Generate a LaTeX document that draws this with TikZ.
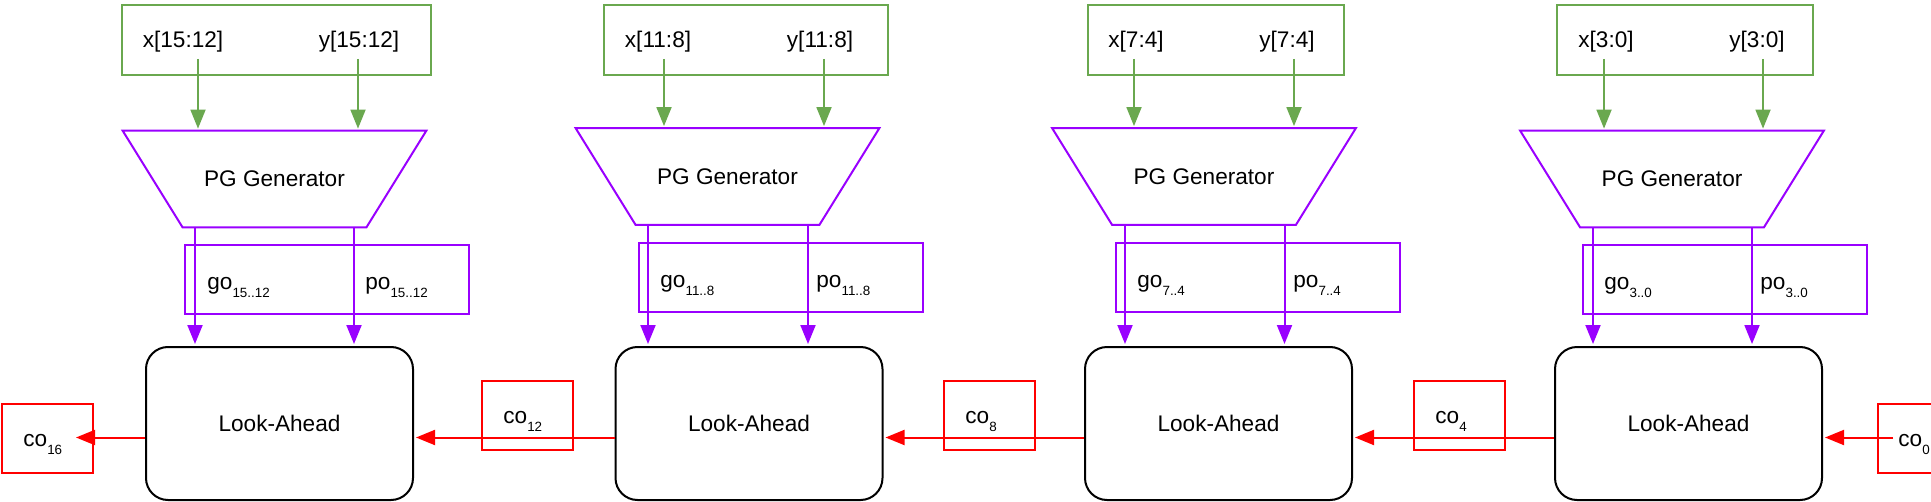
\documentclass[tikz,border=0pt]{standalone}
\usepackage{fontspec}
\setmainfont{Liberation Sans}
\usetikzlibrary{arrows.meta,positioning}

\definecolor{ingreen}{HTML}{6AA84F}
\definecolor{pgpurple}{HTML}{9900FF}
\definecolor{carryred}{HTML}{FF0000}

\newcommand{\bitsub}[1]{\raisebox{-4pt}{\fontsize{6.7}{8}\selectfont #1}}

\tikzset{
  inbox/.style={draw=ingreen, line width=0.9pt, minimum height=35pt},
  pg/.style={minimum width=151.5pt, minimum height=48pt, inner sep=0pt},
  pgedge/.style={draw=pgpurple, line width=1pt, line join=miter},
  outbox/.style={draw=pgpurple, line width=1pt, minimum width=142pt, minimum height=34.5pt},
  la/.style={draw, line width=1pt, rounded corners=11pt, minimum width=133.5pt, minimum height=76.5pt},
  cobox/.style={draw=carryred, line width=1pt, minimum width=45.5pt, minimum height=34.5pt},
  lbl/.style={anchor=base, inner sep=0pt},
  bus/.style={->, line width=1pt},
}

\begin{document}
\begin{tikzpicture}[x=0.5pt,y=-0.5pt,>={Triangle[length=9.5pt,width=7.5pt]},
    shorten >=1pt,font=\fontsize{11.3}{13.5}\selectfont]
    \useasboundingbox (0,0) rectangle (1931,502);

    \node[inbox, minimum width=154.5pt] (in1) at (276.5,40) {};
    \node[lbl] (x1) at (183,48) {x[15:12]};
    \node[lbl] (y1) at (359,48) {y[15:12]};
    \node[pg] (pg1) at (274.5,179) {PG Generator};
    \node[outbox] (out1) at (327,279.5) {};
    \node[lbl, anchor=base west] (go1) at (207,289) {go\bitsub{15..12}};
    \node[lbl, anchor=base west] (po1) at (365,289) {po\bitsub{15..12}};
    \node[la] (la1) at (279.5,423.5) {Look-Ahead};

    \node[inbox, minimum width=142pt] (in2) at (746,40) {};
    \node[lbl] (x2) at (658,48) {x[11:8]};
    \node[lbl] (y2) at (820,48) {y[11:8]};
    \node[pg] (pg2) at (727.5,176.5) {PG Generator};
    \node[outbox] (out2) at (781,277.5) {};
    \node[lbl, anchor=base west] (go2) at (660,287) {go\bitsub{11..8}};
    \node[lbl, anchor=base west] (po2) at (816,287) {po\bitsub{11..8}};
    \node[la] (la2) at (749,423.5) {Look-Ahead};

    \node[inbox, minimum width=128pt] (in3) at (1216,40) {};
    \node[lbl] (x3) at (1136,48) {x[7:4]};
    \node[lbl] (y3) at (1287,48) {y[7:4]};
    \node[pg] (pg3) at (1204,176.5) {PG Generator};
    \node[outbox] (out3) at (1257.5,277.5) {};
    \node[lbl, anchor=base west] (go3) at (1137,287) {go\bitsub{7..4}};
    \node[lbl, anchor=base west] (po3) at (1293,287) {po\bitsub{7..4}};
    \node[la] (la3) at (1218.5,423.5) {Look-Ahead};

    \node[inbox, minimum width=128pt] (in4) at (1685,40) {};
    \node[lbl] (x4) at (1606,48) {x[3:0]};
    \node[lbl] (y4) at (1757,48) {y[3:0]};
    \node[pg] (pg4) at (1672,179) {PG Generator};
    \node[outbox] (out4) at (1725,279.5) {};
    \node[lbl, anchor=base west] (go4) at (1604,289) {go\bitsub{3..0}};
    \node[lbl, anchor=base west] (po4) at (1760,289) {po\bitsub{3..0}};
    \node[la] (la4) at (1688.5,423.5) {Look-Ahead};

    \path[pgedge] (pg1.north west) -- (pg1.north east) -- ([xshift=-30pt]pg1.south east) -- ([xshift=30pt]pg1.south west) -- cycle;
    \path[pgedge] (pg2.north west) -- (pg2.north east) -- ([xshift=-30pt]pg2.south east) -- ([xshift=30pt]pg2.south west) -- cycle;
    \path[pgedge] (pg3.north west) -- (pg3.north east) -- ([xshift=-30pt]pg3.south east) -- ([xshift=30pt]pg3.south west) -- cycle;
    \path[pgedge] (pg4.north west) -- (pg4.north east) -- ([xshift=-30pt]pg4.south east) -- ([xshift=30pt]pg4.south west) -- cycle;

    \node[cobox] (co16) at (47,438) {};
    \node[lbl, anchor=base west] (co16t) at (23,446) {co\bitsub{16}};
    \node[cobox] (co12) at (527.5,415.5) {};
    \node[lbl, anchor=base west] (co12t) at (503,423) {co\bitsub{12}};
    \node[cobox] (co8) at (989.5,415.5) {};
    \node[lbl, anchor=base west] (co8t) at (965,423) {co\bitsub{8}};
    \node[cobox] (co4) at (1459,415.5) {};
    \node[lbl, anchor=base west] (co4t) at (1435,423) {co\bitsub{4}};
    \node[cobox] (co0) at (1923,438) {};
    \node[lbl, anchor=base west] (co0t) at (1898,446) {co\bitsub{0}};

    \coordinate (xs1) at (198,59);
    \coordinate (ys1) at (358,59);
    \coordinate (xs2) at (664,59);
    \coordinate (ys2) at (824,59);
    \coordinate (xs3) at (1134,59);
    \coordinate (ys3) at (1294,59);
    \coordinate (xs4) at (1604,59);
    \coordinate (ys4) at (1763,59);
    \coordinate (g1) at (195,0);
    \coordinate (p1) at (354,0);
    \coordinate (g2) at (648,0);
    \coordinate (p2) at (808,0);
    \coordinate (g3) at (1125,0);
    \coordinate (p3) at (1284.5,0);
    \coordinate (g4) at (1593,0);
    \coordinate (p4) at (1752,0);
    \coordinate (c16) at (74,437.5);
    \coordinate (c0) at (1893,437.5);

    \draw[bus, ingreen, line width=0.9pt] (xs1) -- (xs1 |- pg1.north);
    \draw[bus, ingreen, line width=0.9pt] (ys1) -- (ys1 |- pg1.north);
    \draw[bus, ingreen, line width=0.9pt] (xs2) -- (xs2 |- pg2.north);
    \draw[bus, ingreen, line width=0.9pt] (ys2) -- (ys2 |- pg2.north);
    \draw[bus, ingreen, line width=0.9pt] (xs3) -- (xs3 |- pg3.north);
    \draw[bus, ingreen, line width=0.9pt] (ys3) -- (ys3 |- pg3.north);
    \draw[bus, ingreen, line width=0.9pt] (xs4) -- (xs4 |- pg4.north);
    \draw[bus, ingreen, line width=0.9pt] (ys4) -- (ys4 |- pg4.north);

    \draw[bus, pgpurple] (pg1.south -| g1) -- (la1.north -| g1);
    \draw[bus, pgpurple] (pg1.south -| p1) -- (la1.north -| p1);
    \draw[bus, pgpurple] (pg2.south -| g2) -- (la2.north -| g2);
    \draw[bus, pgpurple] (pg2.south -| p2) -- (la2.north -| p2);
    \draw[bus, pgpurple] (pg3.south -| g3) -- (la3.north -| g3);
    \draw[bus, pgpurple] (pg3.south -| p3) -- (la3.north -| p3);
    \draw[bus, pgpurple] (pg4.south -| g4) -- (la4.north -| g4);
    \draw[bus, pgpurple] (pg4.south -| p4) -- (la4.north -| p4);

    \draw[bus, carryred] (c0) -- ([yshift=-7pt]la4.east);
    \draw[bus, carryred] ([yshift=-7pt]la4.west) -- ([yshift=-7pt]la3.east);
    \draw[bus, carryred] ([yshift=-7pt]la3.west) -- ([yshift=-7pt]la2.east);
    \draw[bus, carryred] ([yshift=-7pt]la2.west) -- ([yshift=-7pt]la1.east);
    \draw[bus, carryred] ([yshift=-7pt]la1.west) -- (c16);
\end{tikzpicture}
\end{document}
